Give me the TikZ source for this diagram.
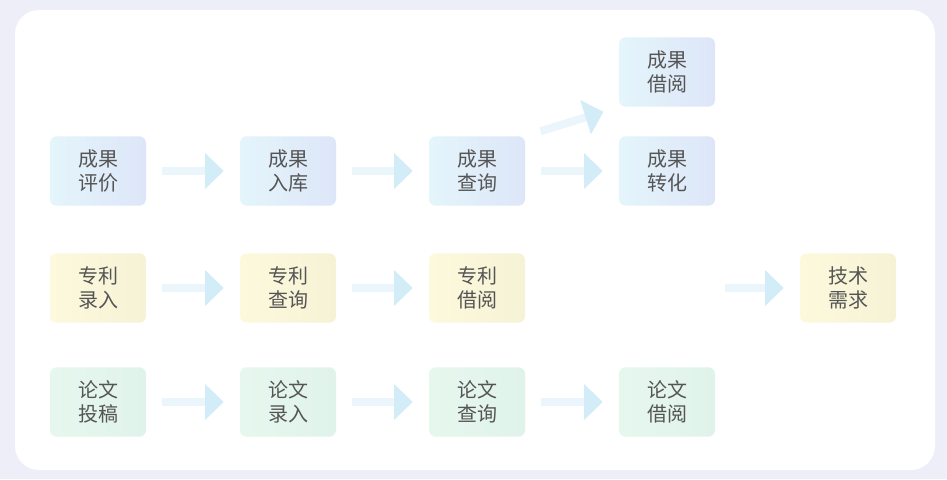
\documentclass[tikz,border=0pt]{standalone}
\usepackage{fontspec}
\setmainfont{Noto Sans CJK SC}
\usetikzlibrary{arrows.meta}
\definecolor{bgc}{HTML}{EEEEF8}
\definecolor{txt}{HTML}{555555}
\definecolor{bA}{HTML}{E4F5FB}
\definecolor{bB}{HTML}{DDE6F8}
\definecolor{yA}{HTML}{FCF9DC}
\definecolor{yB}{HTML}{F6F2D6}
\definecolor{gA}{HTML}{E6F7EE}
\definecolor{gB}{HTML}{E0F3EA}
\definecolor{arr}{HTML}{D2ECF8}
\begin{document}
\begin{tikzpicture}[x=0.75pt,y=-0.75pt,
  box/.style={rounded corners=5pt,minimum width=72pt,minimum height=52pt,text=txt,font=\fontsize{15}{18}\selectfont,align=center,inner sep=0pt},
  bluebox/.style={box,left color=bA,right color=bB},
  yelbox/.style={box,left color=yA,right color=yB},
  grnbox/.style={box,left color=gA,right color=gB},
  flow/.style={draw=arr!45,line width=6pt,-{Triangle[length=14pt,width=26pt,color=arr]},shorten >=12pt,shorten <=12pt}]
\fill[bgc] (0,0) rectangle (947,479);
\fill[white,rounded corners=18pt] (15,10) rectangle (935,470);
\node[bluebox] (b0) at (667,72) {成果\\借阅};
\node[bluebox] (b1) at (98,171) {成果\\评价};
\node[bluebox] (b2) at (288,171) {成果\\入库};
\node[bluebox] (b3) at (477,171) {成果\\查询};
\node[bluebox] (b4) at (667,171) {成果\\转化};
\node[yelbox] (y1) at (98,288) {专利\\录入};
\node[yelbox] (y2) at (288,288) {专利\\查询};
\node[yelbox] (y3) at (477,288) {专利\\借阅};
\node[yelbox] (y4) at (848,288) {技术\\需求};
\node[grnbox] (g1) at (98,402) {论文\\投稿};
\node[grnbox] (g2) at (288,402) {论文\\录入};
\node[grnbox] (g3) at (477,402) {论文\\查询};
\node[grnbox] (g4) at (667,402) {论文\\借阅};
\draw[flow] (b1) -- (b2);
\draw[flow] (b2) -- (b3);
\draw[flow] (b3) -- (b4);
\draw[flow] (b3.north east) -- (b0.south west);
\draw[flow] (y1) -- (y2);
\draw[flow] (y2) -- (y3);
\draw[flow,shorten <=150pt] (y3) -- (y4);
\draw[flow] (g1) -- (g2);
\draw[flow] (g2) -- (g3);
\draw[flow] (g3) -- (g4);
\end{tikzpicture}
\end{document}
